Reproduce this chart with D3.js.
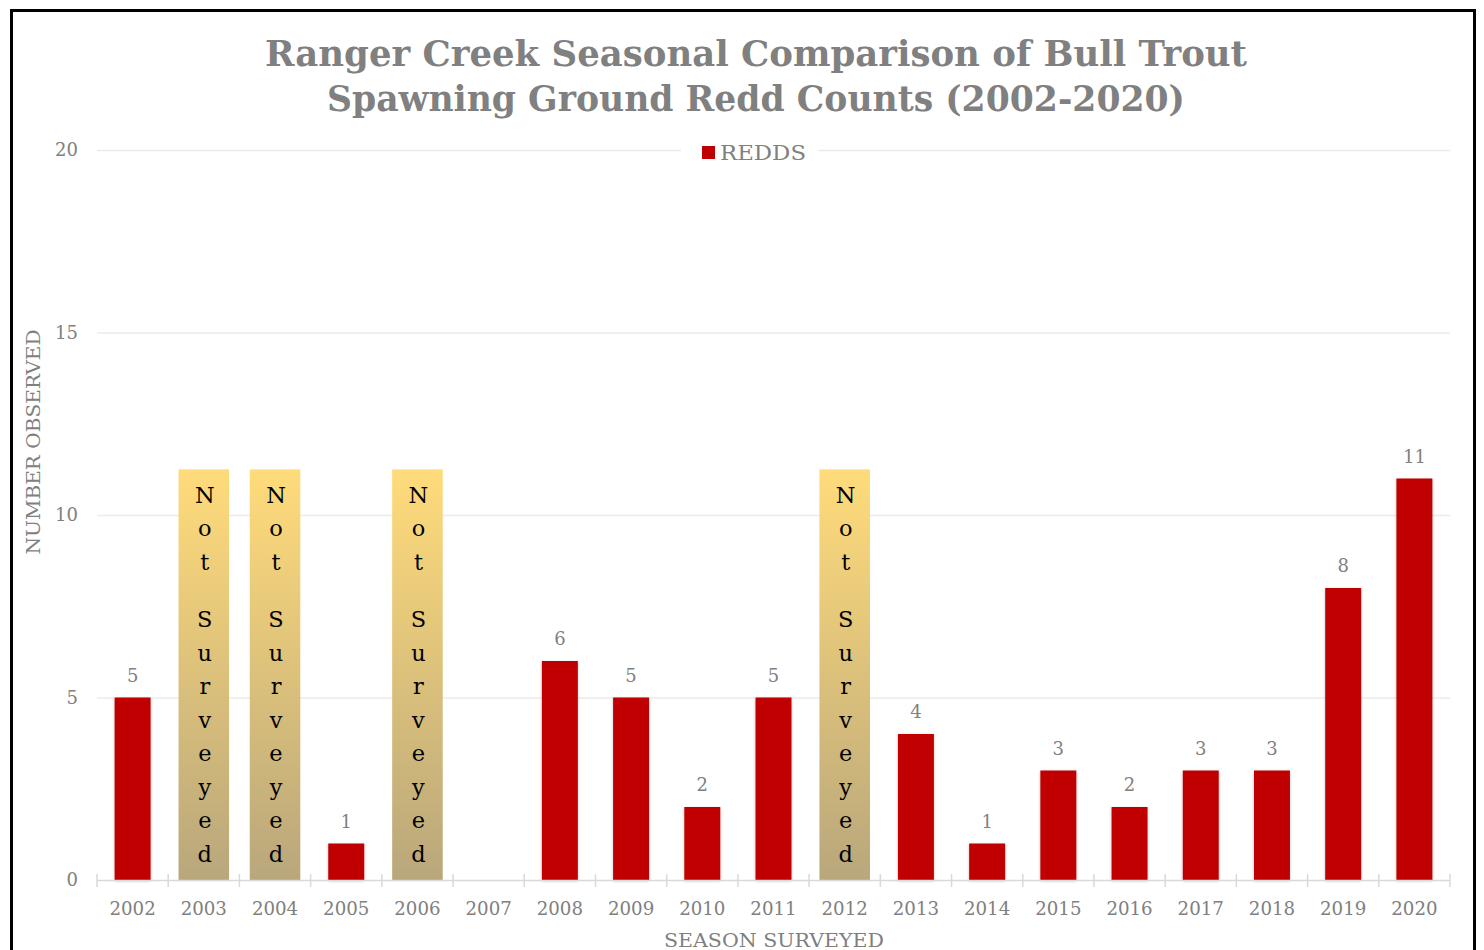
<!DOCTYPE html>
<html><head><meta charset="utf-8">
<script src="https://cdn.jsdelivr.net/npm/d3@7"></script>
<style>
html,body{margin:0;padding:0;background:#fff;}
svg{display:block;}
</style></head>
<body>
<svg id="chart" width="1484" height="950"></svg>
<script>
const years = ["2002","2003","2004","2005","2006","2007","2008","2009","2010","2011","2012","2013","2014","2015","2016","2017","2018","2019","2020"];
const redds = [5,null,null,1,null,null,6,5,2,5,null,4,1,3,2,3,3,8,11];
const notSurveyedYears = ["2003","2004","2006","2012"];
const notSurveyedHeight = 11.25;
const yTicks = [0,5,10,15,20];
const titleLines = ["Ranger Creek Seasonal Comparison of Bull Trout","Spawning Ground Redd Counts (2002-2020)"];
const seriesName = "REDDS";
const yTitle = "NUMBER OBSERVED";
const xTitle = "SEASON SURVEYED";
const nsText = "Not Surveyed";

const FONT = "'DejaVu Serif','Liberation Serif',serif";
const GRAY = "#808080";
const svg = d3.select("#chart");
const m = {left:97, right:1450, top:150, bottom:880};

// border
svg.append("rect").attr("x",11.5).attr("y",10.5).attr("width",1463).attr("height",960)
  .attr("fill","#fff").attr("stroke","#000").attr("stroke-width",3);

const defs = svg.append("defs");
const grad = defs.append("linearGradient").attr("id","nsGrad").attr("x1",0).attr("y1",0).attr("x2",0).attr("y2",1);
grad.append("stop").attr("offset","0%").attr("stop-color","#FFDB7A");
grad.append("stop").attr("offset","100%").attr("stop-color","#B9A77C");
const shadow = defs.append("filter").attr("id","shadow").attr("x","-20%").attr("y","-20%").attr("width","140%").attr("height","140%");
shadow.append("feDropShadow").attr("dx",0).attr("dy",1).attr("stdDeviation",1.5).attr("flood-color","#000").attr("flood-opacity",0.25);

const x = d3.scaleBand().domain(years).range([m.left,m.right]).paddingInner(0).paddingOuter(0);
const y = d3.scaleLinear().domain([0,20]).range([m.bottom,m.top]);

// title
const titleWidths = [982, 858];
svg.append("g").selectAll("text").data(titleLines).join("text")
  .attr("text-anchor","middle").attr("x",756).attr("y",(d,i)=>66+i*45)
  .attr("font-family",FONT).attr("font-weight","bold").attr("font-size",35.5).attr("fill",GRAY)
  .attr("textLength",(d,i)=>titleWidths[i]).attr("lengthAdjust","spacingAndGlyphs")
  .text(d=>d);

// gridlines
svg.append("g").selectAll("line").data(yTicks.filter(t=>t>0)).join("line")
  .attr("x1",m.left).attr("x2",m.right).attr("y1",d=>y(d)+0.5).attr("y2",d=>y(d)+0.5)
  .attr("stroke","#EBEBEB").attr("stroke-width",1.5);

// y tick labels
svg.append("g").selectAll("text").data(yTicks).join("text")
  .attr("x",78).attr("y",d=>y(d)).attr("dy","0.35em").attr("text-anchor","end")
  .attr("font-family",FONT).attr("font-size",18).attr("fill",GRAY).text(d=>d);

// not surveyed bars
const nsW = x.bandwidth()*0.71;
const ns = svg.append("g").selectAll("g").data(notSurveyedYears).join("g");
ns.append("rect").attr("x",d=>x(d)+x.bandwidth()/2-nsW/2).attr("width",nsW)
  .attr("y",y(notSurveyedHeight)).attr("height",y(0)-y(notSurveyedHeight)).attr("fill","url(#nsGrad)");
const letters = [];
let pos = 0;
nsText.split("").forEach(c=>{
  if(c===" "){ pos += 24; }
  else { letters.push({c,off:pos}); pos += 33.5; }
});
ns.each(function(d){
  d3.select(this).selectAll("text").data(letters).join("text")
    .attr("x",x(d)+x.bandwidth()/2+1).attr("y",l=>495+l.off).attr("dy","0.35em")
    .attr("text-anchor","middle").attr("font-family",FONT).attr("font-size",22.5).attr("fill","#000")
    .text(l=>l.c);
});

// data bars
const bw = x.bandwidth()*0.505;
const data = years.map((yr,i)=>({yr,v:redds[i]})).filter(d=>d.v!==null);
svg.append("g").selectAll("rect").data(data).join("rect")
  .attr("x",d=>x(d.yr)+x.bandwidth()/2-bw/2).attr("width",bw)
  .attr("y",d=>y(d.v)).attr("height",d=>y(0)-y(d.v)).attr("fill","#C00000").attr("filter","url(#shadow)");
svg.append("g").selectAll("text").data(data).join("text")
  .attr("x",d=>x(d.yr)+x.bandwidth()/2).attr("y",d=>y(d.v)-22).attr("dy","0.35em").attr("text-anchor","middle")
  .attr("font-family",FONT).attr("font-size",18).attr("fill",GRAY).text(d=>d.v);

// x axis
const xAxis = svg.append("g").attr("transform",`translate(0,${m.bottom})`);
xAxis.append("line").attr("x1",m.left).attr("x2",m.right).attr("y1",0.5).attr("y2",0.5).attr("stroke","#D9D9D9").attr("stroke-width",1.5);
const tickPos = years.map(d=>x(d)).concat([m.right]);
xAxis.selectAll("line.tick").data(tickPos).join("line").attr("class","tick")
  .attr("x1",d=>d).attr("x2",d=>d).attr("y1",-6).attr("y2",7).attr("stroke","#D9D9D9").attr("stroke-width",1.5);
xAxis.selectAll("text").data(years).join("text")
  .attr("x",d=>x(d)+x.bandwidth()/2).attr("y",29).attr("dy","0.35em").attr("text-anchor","middle")
  .attr("font-family",FONT).attr("font-size",18.2).attr("fill",GRAY).text(d=>d);

// axis titles
svg.append("text").attr("x",774).attr("y",940).attr("dy","0.35em").attr("text-anchor","middle")
  .attr("font-family",FONT).attr("font-size",19).attr("fill",GRAY)
  .attr("textLength",220).attr("lengthAdjust","spacingAndGlyphs").text(xTitle);
svg.append("text").attr("transform","translate(33,442) rotate(-90)").attr("dy","0.35em").attr("text-anchor","middle")
  .attr("font-family",FONT).attr("font-size",19).attr("fill",GRAY)
  .attr("textLength",225).attr("lengthAdjust","spacingAndGlyphs").text(yTitle);

// legend
const lg = svg.append("g");
lg.append("rect").attr("x",681).attr("y",140).attr("width",137).attr("height",24).attr("fill","#fff");
lg.append("rect").attr("x",702).attr("y",146).attr("width",13).attr("height",13).attr("fill","#C00000");
lg.append("text").attr("x",720).attr("y",153).attr("dy","0.35em").attr("font-family",FONT).attr("font-size",21)
  .attr("textLength",86).attr("lengthAdjust","spacingAndGlyphs").attr("fill",GRAY).text(seriesName);
</script>
</body></html>
